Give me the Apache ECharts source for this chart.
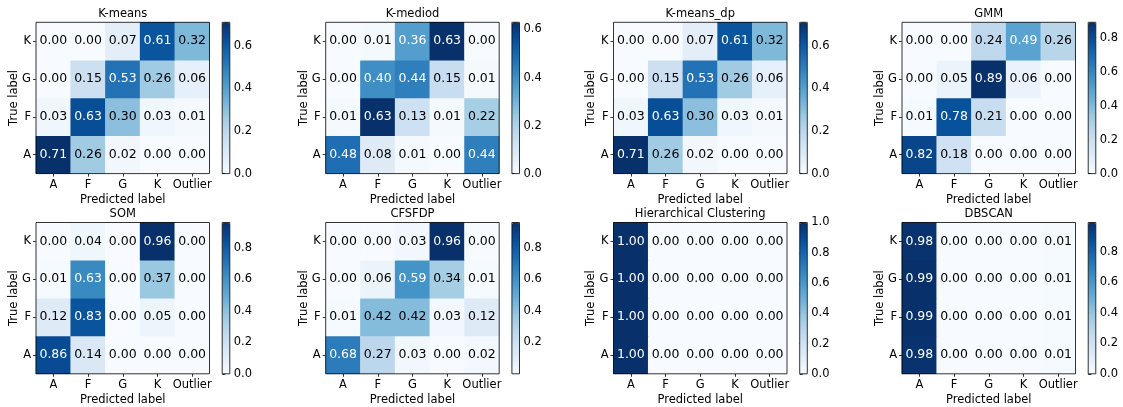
<!DOCTYPE html>
<html>
<head>
<meta charset="utf-8">
<script src="https://cdn.jsdelivr.net/npm/echarts@6/dist/echarts.min.js"></script>
<style>html,body{margin:0;padding:0;background:#fff}#c{width:1123px;height:407px}</style>
</head>
<body>
<div id="c"></div>
<script>
// ---- data ----
const predictedLabels = ['A', 'F', 'G', 'K', 'Outlier'];
const trueLabels = ['A', 'F', 'G', 'K'];
const titles = ['K-means', 'K-mediod', 'K-means_dp', 'GMM', 'SOM', 'CFSFDP', 'Hierarchical Clustering', 'DBSCAN'];
// rows: true label A, F, G, K ; columns: predicted A, F, G, K, Outlier
const kmeans = [
  [0.71, 0.26, 0.02, 0.00, 0.00],
  [0.03, 0.63, 0.30, 0.03, 0.01],
  [0.00, 0.15, 0.53, 0.26, 0.06],
  [0.00, 0.00, 0.07, 0.61, 0.32]
];
const kmediod = [
  [0.48, 0.08, 0.01, 0.00, 0.44],
  [0.01, 0.63, 0.13, 0.01, 0.22],
  [0.00, 0.40, 0.44, 0.15, 0.01],
  [0.00, 0.01, 0.36, 0.63, 0.00]
];
const kmeansDp = [
  [0.71, 0.26, 0.02, 0.00, 0.00],
  [0.03, 0.63, 0.30, 0.03, 0.01],
  [0.00, 0.15, 0.53, 0.26, 0.06],
  [0.00, 0.00, 0.07, 0.61, 0.32]
];
const gmm = [
  [0.82, 0.18, 0.00, 0.00, 0.00],
  [0.01, 0.78, 0.21, 0.00, 0.00],
  [0.00, 0.05, 0.89, 0.06, 0.00],
  [0.00, 0.00, 0.24, 0.49, 0.26]
];
const som = [
  [0.86, 0.14, 0.00, 0.00, 0.00],
  [0.12, 0.83, 0.00, 0.05, 0.00],
  [0.01, 0.63, 0.00, 0.37, 0.00],
  [0.00, 0.04, 0.00, 0.96, 0.00]
];
const cfsfdp = [
  [0.68, 0.27, 0.03, 0.00, 0.02],
  [0.01, 0.42, 0.42, 0.03, 0.12],
  [0.00, 0.06, 0.59, 0.34, 0.01],
  [0.00, 0.00, 0.03, 0.96, 0.00]
];
const hierarchical = [
  [1.00, 0.00, 0.00, 0.00, 0.00],
  [1.00, 0.00, 0.00, 0.00, 0.00],
  [1.00, 0.00, 0.00, 0.00, 0.00],
  [1.00, 0.00, 0.00, 0.00, 0.00]
];
const dbscan = [
  [0.98, 0.00, 0.00, 0.00, 0.01],
  [0.99, 0.00, 0.00, 0.00, 0.01],
  [0.99, 0.00, 0.00, 0.00, 0.01],
  [0.98, 0.00, 0.00, 0.00, 0.01]
];
const colorbarTicks = [
  [0, 0.2, 0.4, 0.6],
  [0, 0.2, 0.4, 0.6],
  [0, 0.2, 0.4, 0.6],
  [0, 0.2, 0.4, 0.6, 0.8],
  [0, 0.2, 0.4, 0.6, 0.8],
  [0.2, 0.4, 0.6, 0.8],
  [0, 0.2, 0.4, 0.6, 0.8, 1.0],
  [0, 0.2, 0.4, 0.6, 0.8]
];
const matrices = [kmeans, kmediod, kmeansDp, gmm, som, cfsfdp, hierarchical, dbscan];

// ---- style / layout ----
const BLUES = ['#f7fbff', '#deebf7', '#c6dbef', '#9ecae1', '#6baed6', '#4292c6', '#2171b5', '#08519c', '#08306b'];
const FONT = 'DejaVu Sans';
const lefts = [36, 325.7, 613.5, 902];
const tops = [22.3, 222.5];
const W = 173.5, H = 151.3;
const CB_OFF = 186.2, CB_W = 7.6;

const grid = [], xAxis = [], yAxis = [], series = [], visualMap = [];

matrices.forEach((m, i) => {
  const col = i % 4, row = Math.floor(i / 4);
  const L = lefts[col], T = tops[row];
  const flat = m.flat();
  const vmin = Math.min(...flat), vmax = Math.max(...flat);
  const thresh = vmax / 2;

  // heatmap grid
  const gi = grid.length;
  grid.push({left: L, top: T, width: W, height: H, show: true, z: 10,
    backgroundColor: 'transparent', borderColor: '#000', borderWidth: 0.8});
  const xi = xAxis.length;
  xAxis.push({
    type: 'category', gridIndex: gi, data: predictedLabels, position: 'bottom',
    name: 'Predicted label', nameLocation: 'middle', nameGap: 20,
    nameTextStyle: {fontFamily: FONT, fontSize: 11.5, color: '#000'},
    axisLine: {show: false},
    axisTick: {show: true, alignWithLabel: true, interval: 0, length: 3, lineStyle: {color: '#000', width: 0.8}},
    axisLabel: {fontFamily: FONT, fontSize: 11.5, color: '#000', margin: 5, interval: 0},
    splitLine: {show: false}
  });
  // title as top axis name
  xAxis.push({
    type: 'category', gridIndex: gi, data: predictedLabels, position: 'top',
    name: titles[i], nameLocation: 'middle', nameGap: 2, nameMoveOverlap: false,
    nameTextStyle: {fontFamily: FONT, fontSize: 11.5, color: '#000'},
    axisLine: {show: false}, axisTick: {show: false}, axisLabel: {show: false}, splitLine: {show: false}
  });
  const yi = yAxis.length;
  yAxis.push({
    type: 'category', gridIndex: gi, data: trueLabels,
    name: 'True label', nameLocation: 'middle', nameGap: 16, nameMoveOverlap: false,
    nameTextStyle: {fontFamily: FONT, fontSize: 11.5, color: '#000'},
    axisLine: {show: false},
    axisTick: {show: true, alignWithLabel: true, interval: 0, length: 3, lineStyle: {color: '#000', width: 0.8}},
    axisLabel: {fontFamily: FONT, fontSize: 11.5, color: '#000', margin: 5, interval: 0},
    splitLine: {show: false}
  });
  const data = [];
  m.forEach((r, yIdx) => r.forEach((v, xIdx) => {
    data.push({value: [xIdx, yIdx, v], label: {color: v > thresh ? '#fff' : '#000'}});
  }));
  const si = series.length;
  series.push({
    type: 'heatmap', xAxisIndex: xi, yAxisIndex: yi, data: data,
    label: {show: true, fontFamily: FONT, fontSize: 12.5, formatter: p => p.value[2].toFixed(2)},
    itemStyle: {borderWidth: 0},
    emphasis: {disabled: true}
  });
  visualMap.push({
    type: 'continuous', seriesIndex: si, dimension: 2, min: vmin, max: vmax,
    calculable: false, hoverLink: false, orient: 'vertical',
    left: L + CB_OFF, top: T, itemWidth: CB_W, itemHeight: H, padding: 0,
    inRange: {color: BLUES}, text: null, textGap: 0, showLabel: false
  });

  // colorbar axis grid
  const cg = grid.length;
  grid.push({left: L + CB_OFF, top: T, width: CB_W, height: H, show: true, z: 10,
    backgroundColor: 'transparent', borderColor: '#000', borderWidth: 0.8});
  xAxis.push({type: 'value', gridIndex: cg, show: false, min: 0, max: 1});
  yAxis.push({
    type: 'value', gridIndex: cg, position: 'right', min: vmin, max: vmax,
    axisLine: {show: false}, splitLine: {show: false},
    axisTick: {show: true, length: 3, lineStyle: {color: '#000', width: 0.8}, customValues: colorbarTicks[i]},
    axisLabel: {show: true, fontFamily: FONT, fontSize: 11.5, color: '#000', margin: 4,
      customValues: colorbarTicks[i], formatter: v => Number(v).toFixed(1)}
  });
});

const chart = echarts.init(document.getElementById('c'), null, {renderer: 'canvas'});
chart.setOption({
  animation: false,
  backgroundColor: '#fff',
  grid, xAxis, yAxis, series, visualMap
});
</script>
</body>
</html>
